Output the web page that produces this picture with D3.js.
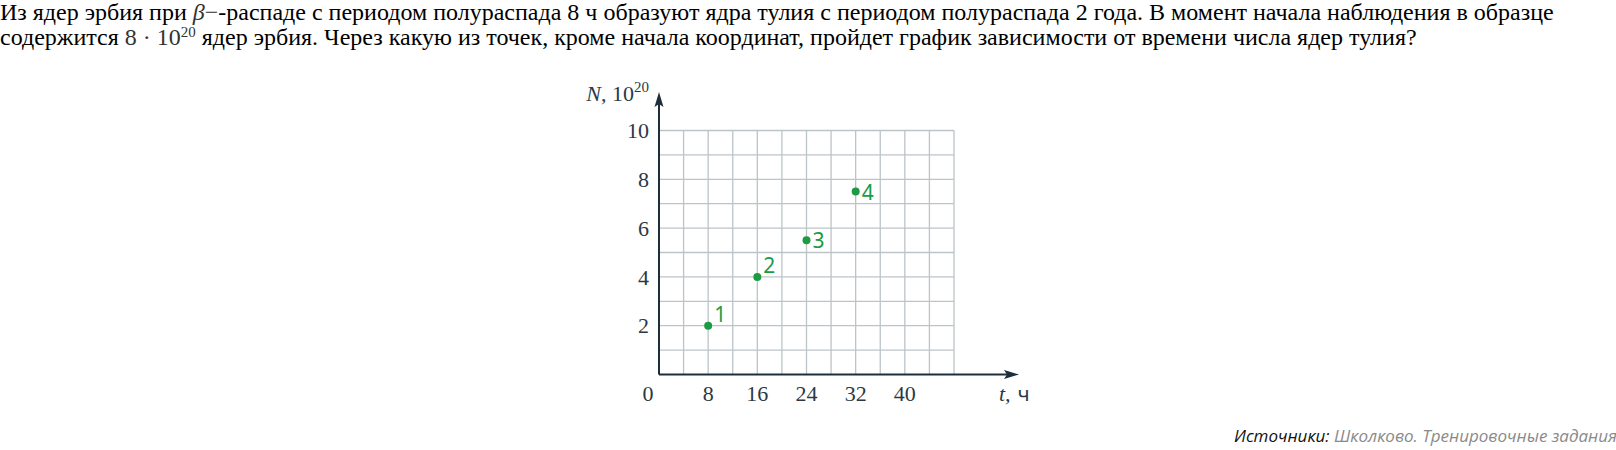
<!DOCTYPE html>
<html>
<head>
<meta charset="utf-8">
<script src="https://cdn.jsdelivr.net/npm/d3@7"></script>
<style>
  html, body { margin: 0; padding: 0; background: #fff; }
  svg { display: block; }
</style>
</head>
<body>
<svg id="chart" width="1616" height="450"></svg>
<script>
// ---- data ----
const xTickValues = [8, 16, 24, 32, 40];
const yTickValues = [2, 4, 6, 8, 10];
const pointT = [8, 16, 24, 32];
const pointN = [2, 4, 5.5, 7.5];
const pointLabels = ["1", "2", "3", "4"];
const xGridStep = 4;
const xMax = 48;
const yMax = 10;
const yAxisLabel = "N";
const xAxisLabel = "t";
const xAxisUnit = "ч";
const titleLine1 = ["Из ядер эрбия при ", "β", "−", "-распаде с периодом полураспада 8 ч образуют ядра тулия с периодом полураспада 2 года. В момент начала наблюдения в образце"];
const titleLine2 = ["содержится ", "8 · 10", "20", " ядер эрбия. Через какую из точек, кроме начала координат, пройдет график зависимости от времени числа ядер тулия?"];
const sourceLabel = "Источники:";
const sourceText = "Школково. Тренировочные задания";

// ---- drawing ----
const svg = d3.select("#chart");
const axisColor = "#1d2f3d";
const gridColor = "#bcc4c8";
const tickColor = "#2a3945";
const green = "#1c9b43";

const x = d3.scaleLinear().domain([0, xMax]).range([659, 954]);
const y = d3.scaleLinear().domain([0, yMax]).range([374.5, 130.5]);

// title
const serif = "'Liberation Serif', 'Times New Roman', serif";
const t1 = svg.append("text").attr("x", 0).attr("y", 20)
  .attr("font-family", serif).attr("font-size", 24).attr("fill", "#000");
t1.append("tspan").text(titleLine1[0]);
t1.append("tspan").attr("font-style", "italic").attr("fill", "#333").text(titleLine1[1]);
t1.append("tspan").attr("fill", "#333").text(titleLine1[2]);
t1.append("tspan").text(titleLine1[3]);

const t2 = svg.append("text").attr("x", 0).attr("y", 45)
  .attr("font-family", serif).attr("font-size", 24).attr("fill", "#000");
t2.append("tspan").text(titleLine2[0]);
t2.append("tspan").attr("fill", "#333").text(titleLine2[1]);
t2.append("tspan").attr("fill", "#333").attr("font-size", 15).attr("dy", -8).text(titleLine2[2]);
t2.append("tspan").attr("dy", 8).text(titleLine2[3]);

// grid
const gx = d3.range(xGridStep, xMax + 0.001, xGridStep);
const gy = d3.range(1, yMax + 0.001, 1);
const grid = svg.append("g").attr("stroke", gridColor).attr("stroke-width", 1.3);
grid.selectAll("line.v").data(gx).join("line")
  .attr("x1", d => x(d)).attr("x2", d => x(d))
  .attr("y1", y(0)).attr("y2", y(yMax));
grid.selectAll("line.h").data(gy).join("line")
  .attr("x1", x(0)).attr("x2", x(xMax))
  .attr("y1", d => y(d)).attr("y2", d => y(d));

// axes
svg.append("line").attr("x1", x(0)).attr("x2", 1008).attr("y1", y(0)).attr("y2", y(0))
  .attr("stroke", axisColor).attr("stroke-width", 2);
svg.append("line").attr("x1", x(0)).attr("x2", x(0)).attr("y1", y(0)).attr("y2", 102)
  .attr("stroke", axisColor).attr("stroke-width", 2);
// arrowheads
svg.append("path").attr("d", `M1019,${y(0)} L1004,${y(0) - 4.5} L1007,${y(0)} L1004,${y(0) + 4.5} Z`).attr("fill", axisColor);
svg.append("path").attr("d", `M${x(0)},92 L${x(0) - 4.5},107 L${x(0)},104 L${x(0) + 4.5},107 Z`).attr("fill", axisColor);

// tick labels
const tickSize = 22;
svg.append("g").selectAll("text").data(yTickValues).join("text")
  .attr("x", 649).attr("y", d => y(d)).attr("dy", "0.35em")
  .attr("text-anchor", "end").attr("font-family", serif).attr("font-size", tickSize)
  .attr("fill", tickColor).text(d => d);
svg.append("g").selectAll("text").data(xTickValues).join("text")
  .attr("x", d => x(d)).attr("y", 393).attr("dy", "0.35em")
  .attr("text-anchor", "middle").attr("font-family", serif).attr("font-size", tickSize)
  .attr("fill", tickColor).text(d => d);
svg.append("text").attr("x", 648).attr("y", 393).attr("dy", "0.35em")
  .attr("text-anchor", "middle").attr("font-family", serif).attr("font-size", tickSize)
  .attr("fill", tickColor).text(0);

// axis labels
const yl = svg.append("text").attr("x", 649).attr("y", 101).attr("text-anchor", "end")
  .attr("font-family", serif).attr("font-size", 22).attr("fill", tickColor);
yl.append("tspan").attr("font-style", "italic").text(yAxisLabel);
yl.append("tspan").text(", 10");
yl.append("tspan").attr("font-size", 15).attr("dy", -9).text("20");

const xl = svg.append("text").attr("x", 999).attr("y", 393).attr("dy", "0.35em")
  .attr("font-family", serif).attr("font-size", 22).attr("fill", tickColor);
xl.append("tspan").attr("font-style", "italic").text(xAxisLabel + ",");
xl.append("tspan").attr("font-family", "'Noto Sans', sans-serif").attr("font-size", 20).attr("dx", 7).text(xAxisUnit);

// points
const pts = pointT.map((t, i) => ({ t, n: pointN[i], label: pointLabels[i] }));
svg.append("g").selectAll("circle").data(pts).join("circle")
  .attr("cx", d => x(d.t)).attr("cy", d => y(d.n)).attr("r", 4).attr("fill", green);
svg.append("g").selectAll("text").data(pts).join("text")
  .attr("x", d => x(d.t) + 6)
  .attr("y", (d, i) => i < 2 ? y(d.n) - 4 : y(d.n) + 8)
  .attr("font-family", "'Noto Sans', sans-serif").attr("font-size", 21)
  .attr("fill", green).text(d => d.label);

// source
const src = svg.append("text").attr("x", 1617).attr("y", 442).attr("text-anchor", "end")
  .attr("font-family", "'Open Sans', 'Noto Sans', sans-serif").attr("font-size", 17)
  .attr("font-style", "italic");
src.append("tspan").attr("fill", "#111").text(sourceLabel + " ");
src.append("tspan").attr("fill", "#8a8a8a").text(sourceText);
</script>
</body>
</html>
